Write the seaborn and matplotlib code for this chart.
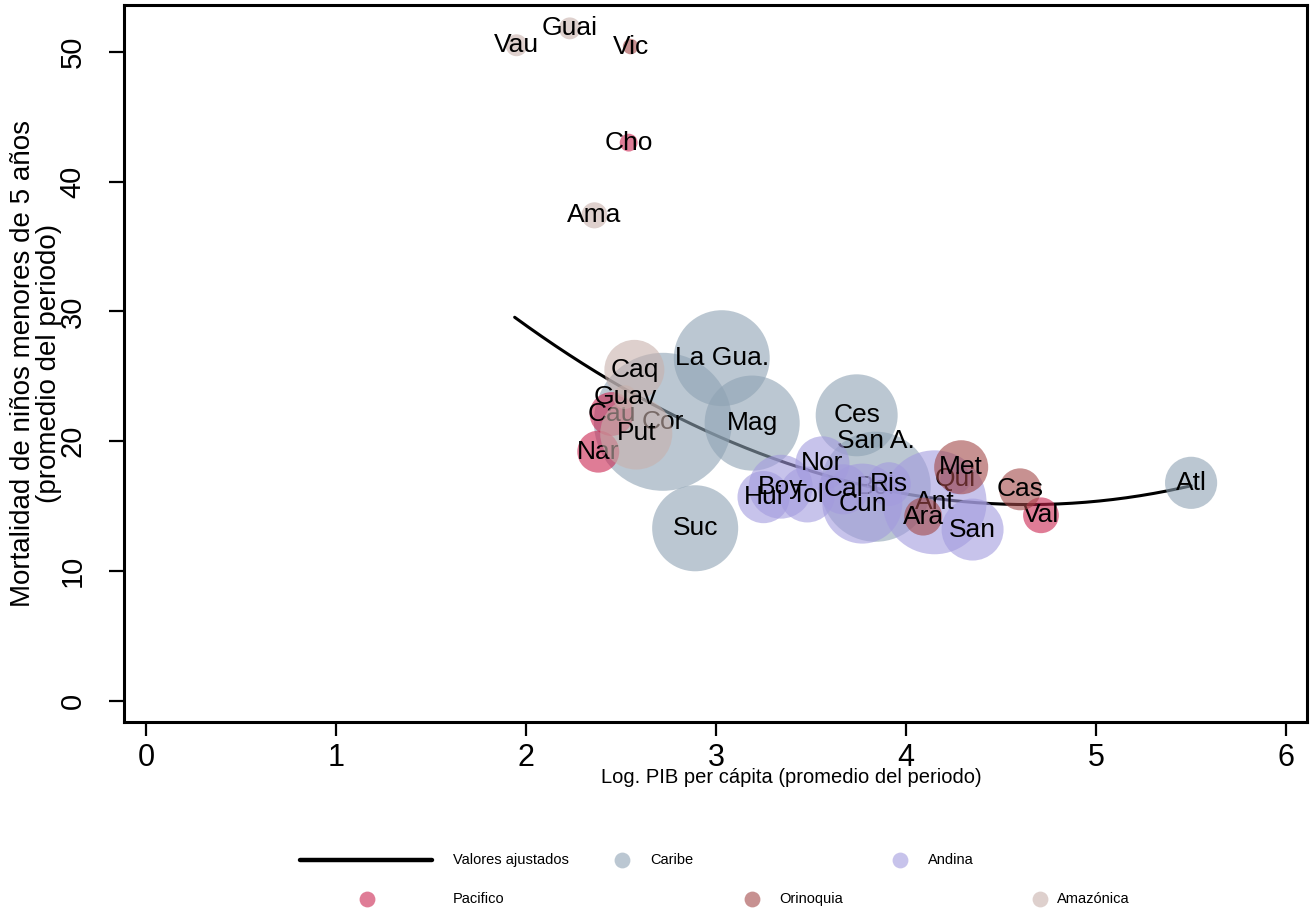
import numpy as np
import pandas as pd
import matplotlib
matplotlib.use("Agg")
import matplotlib.pyplot as plt
import seaborn as sns
from matplotlib.lines import Line2D

# Departamentos: log PIB per cápita, mortalidad < 5 años y peso (área de la burbuja)
caribe_dep = ["Atl", "La Gua.", "Cor", "Mag", "Ces", "Suc", "Bol", "San A."]
caribe_pib = [5.50, 3.03, 2.72, 3.19, 3.74, 2.89, 3.84, 3.84]
caribe_mort = [16.8, 26.4, 21.5, 21.4, 22.0, 13.3, 16.5, 20.0]
caribe_peso = [6.8, 23.0, 47.6, 22.6, 16.8, 18.5, 30.3, 0.4]

andina_dep = ["Nor", "Boy", "Hui", "Tol", "Cal", "Cun", "Ris", "Ant", "San", "Qui"]
andina_pib = [3.56, 3.34, 3.25, 3.48, 3.67, 3.77, 3.91, 4.15, 4.35, 4.26]
andina_mort = [18.3, 16.5, 15.7, 15.9, 16.3, 15.2, 16.7, 15.3, 13.2, 17.1]
andina_peso = [7.3, 10.2, 6.8, 7.8, 6.3, 16.0, 4.8, 27.0, 9.6, 2.3]

pacifico_dep = ["Val", "Nar", "Cau", "Cho"]
pacifico_pib = [4.71, 2.38, 2.45, 2.54]
pacifico_mort = [14.3, 19.2, 22.1, 43.0]
pacifico_peso = [3.2, 4.4, 4.8, 0.8]

orinoquia_dep = ["Met", "Cas", "Ara", "Vic"]
orinoquia_pib = [4.29, 4.60, 4.09, 2.55]
orinoquia_mort = [18.0, 16.3, 14.2, 50.4]
orinoquia_peso = [7.3, 4.4, 3.6, 0.6]

amazonica_dep = ["Caq", "Put", "Guav", "Ama", "Vau", "Guai"]
amazonica_pib = [2.57, 2.58, 2.52, 2.36, 1.95, 2.23]
amazonica_mort = [25.5, 20.6, 23.4, 37.4, 50.5, 51.8]
amazonica_peso = [9.0, 13.0, 1.4, 1.7, 1.2, 1.2]

# Valores ajustados (ajuste cuadrático) en algunos puntos del rango
ajuste_pib = [1.94, 2.17, 2.65, 3.20, 3.65, 4.00, 4.38, 4.77, 5.10, 5.50]
ajuste_mort = [29.5, 27.2, 22.8, 19.6, 17.2, 16.0, 15.0, 14.9, 15.5, 16.8]

regiones = ["Caribe", "Andina", "Pacifico", "Orinoquia", "Amazónica"]
colores = ["#8fa3b4", "#a39bde", "#cb2550", "#a34848", "#c8b1ac"]

tablas = []
for reg, dep, pib, mort, peso in [
    ("Caribe", caribe_dep, caribe_pib, caribe_mort, caribe_peso),
    ("Andina", andina_dep, andina_pib, andina_mort, andina_peso),
    ("Pacifico", pacifico_dep, pacifico_pib, pacifico_mort, pacifico_peso),
    ("Orinoquia", orinoquia_dep, orinoquia_pib, orinoquia_mort, orinoquia_peso),
    ("Amazónica", amazonica_dep, amazonica_pib, amazonica_mort, amazonica_peso),
]:
    tablas.append(pd.DataFrame({"region": reg, "dep": dep, "pib": pib,
                                "mort": mort, "peso": peso}))
df = pd.concat(tablas, ignore_index=True)

sns.set_theme(style="white")
plt.rcParams["font.family"] = ["Liberation Sans", "DejaVu Sans"]

fig = plt.figure(figsize=(13.12, 9.13), dpi=100)
ax = fig.add_axes([124 / 1312, 1 - 722 / 913, (1307 - 124) / 1312, (722 - 5) / 913])

# Curva cuadrática suave por los valores ajustados
coef = np.polyfit(ajuste_pib, ajuste_mort, 2)
xs = np.linspace(min(ajuste_pib), max(ajuste_pib), 200)
curva = pd.DataFrame({"pib": xs, "mort": np.polyval(coef, xs)})
sns.lineplot(data=curva, x="pib", y="mort", color="black", lw=2.2,
             ax=ax, zorder=1)

escala = 207.4  # puntos^2 por unidad de peso
for i, (reg, col) in enumerate(zip(regiones, colores)):
    sub = df[df["region"] == reg]
    sns.scatterplot(data=sub, x="pib", y="mort", size="peso",
                    sizes=(0, escala * 50), size_norm=(0, 50),
                    color=col, alpha=0.6, linewidth=0, legend=False,
                    ax=ax, zorder=2 + 2 * i)
    for _, r in sub.iterrows():
        ax.text(r["pib"], r["mort"], r["dep"], ha="center", va="center",
                fontsize=19, color="black", zorder=3 + 2 * i)

ax.set_xlim(-0.116, 6.11)
ax.set_ylim(-1.62, 53.6)
ax.set_xticks([0, 1, 2, 3, 4, 5, 6])
ax.set_yticks([0, 10, 20, 30, 40, 50])
for s in ax.spines.values():
    s.set_linewidth(2.2)
    s.set_color("black")
ax.tick_params(axis="x", length=10, width=1.6, pad=5, labelsize=22,
               bottom=True, color="black", labelcolor="black")
ax.tick_params(axis="y", length=11, width=1.6, pad=16, labelsize=21,
               left=True, labelrotation=90, color="black", labelcolor="black")
for t in ax.get_yticklabels():
    t.set_va("center")

ax.set_xlabel("Log. PIB per cápita (promedio del periodo)", fontsize=14.5,
              color="black")
ax.xaxis.set_label_coords(0.564, -0.078)
ax.xaxis.label.set_va("center")
ax.set_ylabel("Mortalidad de niños menores de 5 años\n(promedio del periodo)",
              fontsize=20, linespacing=1.0, color="black")
ax.yaxis.set_label_coords(-0.074, 0.5)
ax.yaxis.label.set_va("center")

# Leyenda bajo el gráfico
lg = fig.add_axes([0, 0, 1, 1], zorder=-1)
lg.set_xlim(0, 1312)
lg.set_ylim(913, 0)
lg.axis("off")
lfont = dict(fontsize=10.5, va="center", ha="left", color="black")
lg.add_line(Line2D([300, 432], [860, 860], color="black", lw=3.2))
lg.text(453, 860, "Valores ajustados", **lfont)
entradas = [(622, 860, 650), (900, 860, 928), (367, 899, 453),
            (752, 899, 779), (1040, 899, 1057)]
for (mx, my, tx), reg, col in zip(entradas, regiones, colores):
    lg.scatter([mx], [my], s=130, color=col, alpha=0.6, linewidth=0)
    lg.text(tx, my, reg, **lfont)

fig.savefig("out.png", dpi=100, facecolor="white")
